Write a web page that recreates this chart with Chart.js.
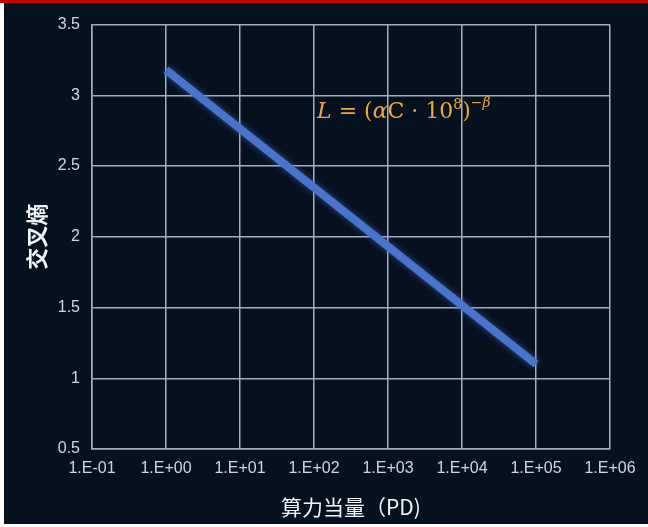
<!DOCTYPE html>
<html>
<head>
<meta charset="utf-8">
<script src="https://cdn.jsdelivr.net/npm/chart.js@4"></script>
<style>
    body { margin: 0; background: #ffffff; width: 648px; height: 527px; position: relative; overflow: hidden; }
    #topBar { position: absolute; left: 0; top: 0; width: 648px; height: 3px; background: #c00000; }
    #wrap { position: absolute; left: 4px; top: 3px; width: 644px; height: 521px; background: #06111f; }
    canvas { display: block; }
</style>
</head>
<body>
<div id="topBar"></div>
<div id="wrap"><canvas id="lossChart" width="644" height="521"></canvas></div>
<script>
"use strict";

// --- Data ---
const computePD = [1, 1e5];            // 算力当量 (PD)
const crossEntropy = [3.18, 1.1];      // 交叉熵
const xTickValues = [1e-1, 1e0, 1e1, 1e2, 1e3, 1e4, 1e5, 1e6];
const xTickLabels = ['1.E-01', '1.E+00', '1.E+01', '1.E+02', '1.E+03', '1.E+04', '1.E+05', '1.E+06'];
const yTickValues = [0.5, 1, 1.5, 2, 2.5, 3, 3.5];
const yTickLabels = ['0.5', '1', '1.5', '2', '2.5', '3', '3.5'];
const formulaAt = [110, 2.84];         // where the formula label sits (data coords)

// --- Styles ---
const gridColor = '#a3adbb';
const labelColor = '#d2d7de';
const titleColor = '#f2f4f7';
const lineColor = '#4874c9';
const formulaColor = '#eea63e';

// Glow under the line
const glowPlugin = {
    id: 'glow',
    beforeDatasetDraw(chart) {
        const ctx = chart.ctx;
        ctx.save();
        ctx.shadowColor = 'rgba(80, 130, 230, 0.55)';
        ctx.shadowBlur = 6;
    },
    afterDatasetDraw(chart) {
        chart.ctx.restore();
    }
};

// Draws the formula L = (αC·10^8)^-β next to the line
const formulaPlugin = {
    id: 'formula',
    afterDatasetsDraw(chart) {
        const ctx = chart.ctx;
        const x0 = chart.scales.x.getPixelForValue(formulaAt[0]);
        const y0 = chart.scales.y.getPixelForValue(formulaAt[1]);
        const big = 22, small = 14;
        const fam = '"DejaVu Serif", "Liberation Serif", serif';
        const parts = [
            { t: 'L', f: `italic ${big}px ${fam}`, dy: 0 },
            { t: ' = (', f: `${big}px ${fam}`, dy: 0 },
            { t: 'α', f: `italic ${big}px ${fam}`, dy: 0 },
            { t: 'C · 10', f: `${big}px ${fam}`, dy: 0 },
            { t: '8', f: `${small}px ${fam}`, dy: -9 },
            { t: ')', f: `${big}px ${fam}`, dy: 0 },
            { t: '−', f: `${small}px ${fam}`, dy: -11 },
            { t: 'β', f: `italic ${small}px ${fam}`, dy: -11 }
        ];
        ctx.save();
        ctx.fillStyle = formulaColor;
        ctx.textBaseline = 'alphabetic';
        ctx.textAlign = 'left';
        let x = x0;
        parts.forEach(p => {
            ctx.font = p.f;
            ctx.fillText(p.t, x, y0 + p.dy);
            x += ctx.measureText(p.t).width;
        });
        ctx.restore();
    }
};

const ctx = document.getElementById('lossChart').getContext('2d');
new Chart(ctx, {
    type: 'scatter',
    data: {
        datasets: [{
            label: '交叉熵',
            data: computePD.map((v, i) => ({ x: v, y: crossEntropy[i] })),
            showLine: true,
            borderColor: lineColor,
            borderWidth: 8,
            borderCapStyle: 'butt',
            pointRadius: 0,
            pointHoverRadius: 0
        }]
    },
    options: {
        responsive: false,
        animation: false,
        layout: { padding: { top: 17, right: 38, left: 0, bottom: 0 } },
        plugins: {
            legend: { display: false },
            tooltip: { enabled: false }
        },
        scales: {
            x: {
                type: 'logarithmic',
                min: 1e-1,
                max: 1e6,
                afterBuildTicks: scale => { scale.ticks = xTickValues.map(v => ({ value: v })); },
                afterFit: scale => { scale.height = 75; },
                ticks: {
                    color: labelColor,
                    font: { family: '"Liberation Sans", Arial, sans-serif', size: 16 },
                    padding: 10,
                    maxRotation: 0,
                    autoSkip: false,
                    callback: (value, index) => xTickLabels[index]
                },
                grid: { color: gridColor, lineWidth: 1.5, drawTicks: false },
                border: { color: gridColor, width: 1.5 },
                title: {
                    display: true,
                    text: '算力当量（PD)',
                    color: titleColor,
                    font: { family: '"Noto Sans CJK SC", sans-serif', size: 21 },
                    padding: { top: 4, bottom: 4 }
                }
            },
            y: {
                min: 0.5,
                max: 3.5,
                afterBuildTicks: scale => { scale.ticks = yTickValues.map(v => ({ value: v })); },
                afterFit: scale => { scale.width = 88; },
                ticks: {
                    color: labelColor,
                    font: { family: '"Liberation Sans", Arial, sans-serif', size: 16 },
                    padding: 12,
                    callback: (value, index) => yTickLabels[index]
                },
                grid: { color: gridColor, lineWidth: 1.5, drawTicks: false },
                border: { color: gridColor, width: 1.5 },
                title: {
                    display: true,
                    text: '交叉熵',
                    color: titleColor,
                    font: { family: '"Noto Sans CJK SC", sans-serif', size: 22, weight: 'bold' },
                    padding: { top: 19, bottom: 0 }
                }
            }
        }
    },
    plugins: [glowPlugin, formulaPlugin]
});
</script>
</body>
</html>
